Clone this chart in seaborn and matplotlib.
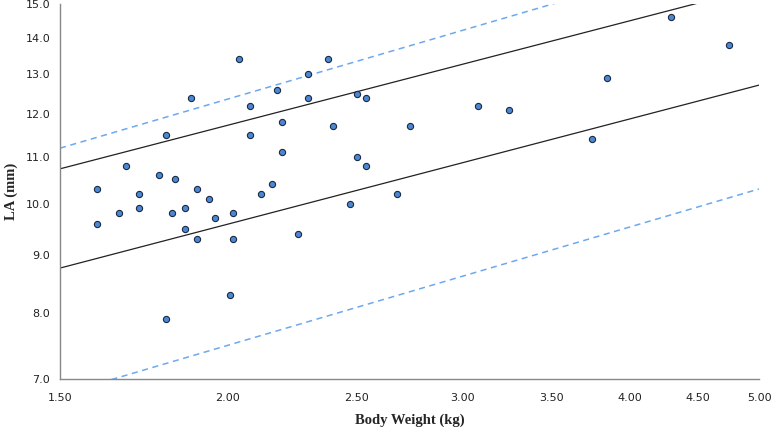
import numpy as np
import pandas as pd
import matplotlib
matplotlib.use("Agg")
import matplotlib.pyplot as plt
import seaborn as sns
from matplotlib.ticker import FixedLocator, FixedFormatter, NullLocator

# ---- data ----
body_weight = [1.60, 1.60, 1.66, 1.68, 1.72, 1.72, 1.78, 1.80, 1.80, 1.82,
               1.83, 1.86, 1.86, 1.88, 1.90, 1.90, 1.94, 1.96, 2.01, 2.02,
               2.02, 2.04, 2.08, 2.08, 2.12, 2.16, 2.20, 2.26, 2.47, 2.50,
               2.54, 2.38, 2.30, 2.18, 2.30, 2.50, 2.54, 2.20, 2.40, 2.74,
               3.08, 3.25, 2.68, 4.30, 4.75, 3.85, 3.75]
la_mm = [10.3, 9.6, 9.8, 10.8, 10.2, 9.9, 10.6, 11.5, 7.9, 9.8,
         10.5, 9.9, 9.5, 12.4, 10.3, 9.3, 10.1, 9.7, 8.3, 9.8,
         9.3, 13.4, 12.2, 11.5, 10.2, 10.4, 11.1, 9.4, 10.0, 11.0,
         10.8, 13.4, 13.0, 12.6, 12.4, 12.5, 12.4, 11.8, 11.7, 11.7,
         12.2, 12.1, 10.2, 14.6, 13.8, 12.9, 11.4]

line_x = [1.5, 5.0]
upper_solid = [10.73, 15.52]
lower_solid = [8.77, 12.72]
upper_dashed = [11.19, 16.96]
lower_dashed = [6.78, 10.30]

x_ticks = [1.5, 2.0, 2.5, 3.0, 3.5, 4.0, 4.5, 5.0]
x_labels = ["1.50", "2.00", "2.50", "3.00", "3.50", "4.00", "4.50", "5.00"]
y_ticks = [7.0, 8.0, 9.0, 10.0, 11.0, 12.0, 13.0, 14.0, 15.0]
y_labels = ["7.0", "8.0", "9.0", "10.0", "11.0", "12.0", "13.0", "14.0", "15.0"]

pts = pd.DataFrame({"bw": body_weight, "la": la_mm})

sns.set_style("white")
plt.rcParams["font.family"] = ["DejaVu Sans"]

fig = plt.figure(figsize=(7.71, 4.30), dpi=100)
ax = fig.add_axes([60 / 771, (430 - 379) / 430, 699 / 771, 375 / 430])

ax.set_xscale("log")
ax.set_yscale("log")

for yv, color, ls, lw in [(upper_solid, "#222222", "-", 0.9),
                          (lower_solid, "#222222", "-", 0.9),
                          (upper_dashed, "#6ea8ee", (0, (4, 3)), 1.1),
                          (lower_dashed, "#6ea8ee", (0, (4, 3)), 1.1)]:
    df = pd.DataFrame({"x": line_x, "y": yv})
    sns.lineplot(data=df, x="x", y="y", ax=ax, color=color, linestyle=ls,
                 linewidth=lw, zorder=2)

sns.scatterplot(data=pts, x="bw", y="la", ax=ax, s=20, color="#4a88d6",
                edgecolor="#1c2a40", linewidth=0.8, zorder=3)

ax.set_xlim(1.5, 5.0)
ax.set_ylim(7.0, 15.0)
ax.xaxis.set_major_locator(FixedLocator(x_ticks))
ax.xaxis.set_major_formatter(FixedFormatter(x_labels))
ax.xaxis.set_minor_locator(NullLocator())
ax.yaxis.set_major_locator(FixedLocator(y_ticks))
ax.yaxis.set_major_formatter(FixedFormatter(y_labels))
ax.yaxis.set_minor_locator(NullLocator())

for side in ["top", "right"]:
    ax.spines[side].set_visible(False)
for side in ["left", "bottom"]:
    ax.spines[side].set_color("#888888")
    ax.spines[side].set_linewidth(1.0)

ax.tick_params(axis="both", which="major", direction="out", length=4,
               width=0.8, color="#888888", labelsize=8, labelcolor="#222222",
               pad=3)
ax.tick_params(axis="x", pad=6)

ax.set_xlabel("Body Weight (kg)", fontsize=10.5, fontweight="bold",
              family=["Liberation Serif"], labelpad=8)
ax.set_ylabel("LA (mm)", fontsize=10.5, fontweight="bold",
              family=["Liberation Serif"])
ax.yaxis.set_label_coords(-0.060, 0.5)
ax.grid(False)

fig.savefig("out.png", dpi=100)
